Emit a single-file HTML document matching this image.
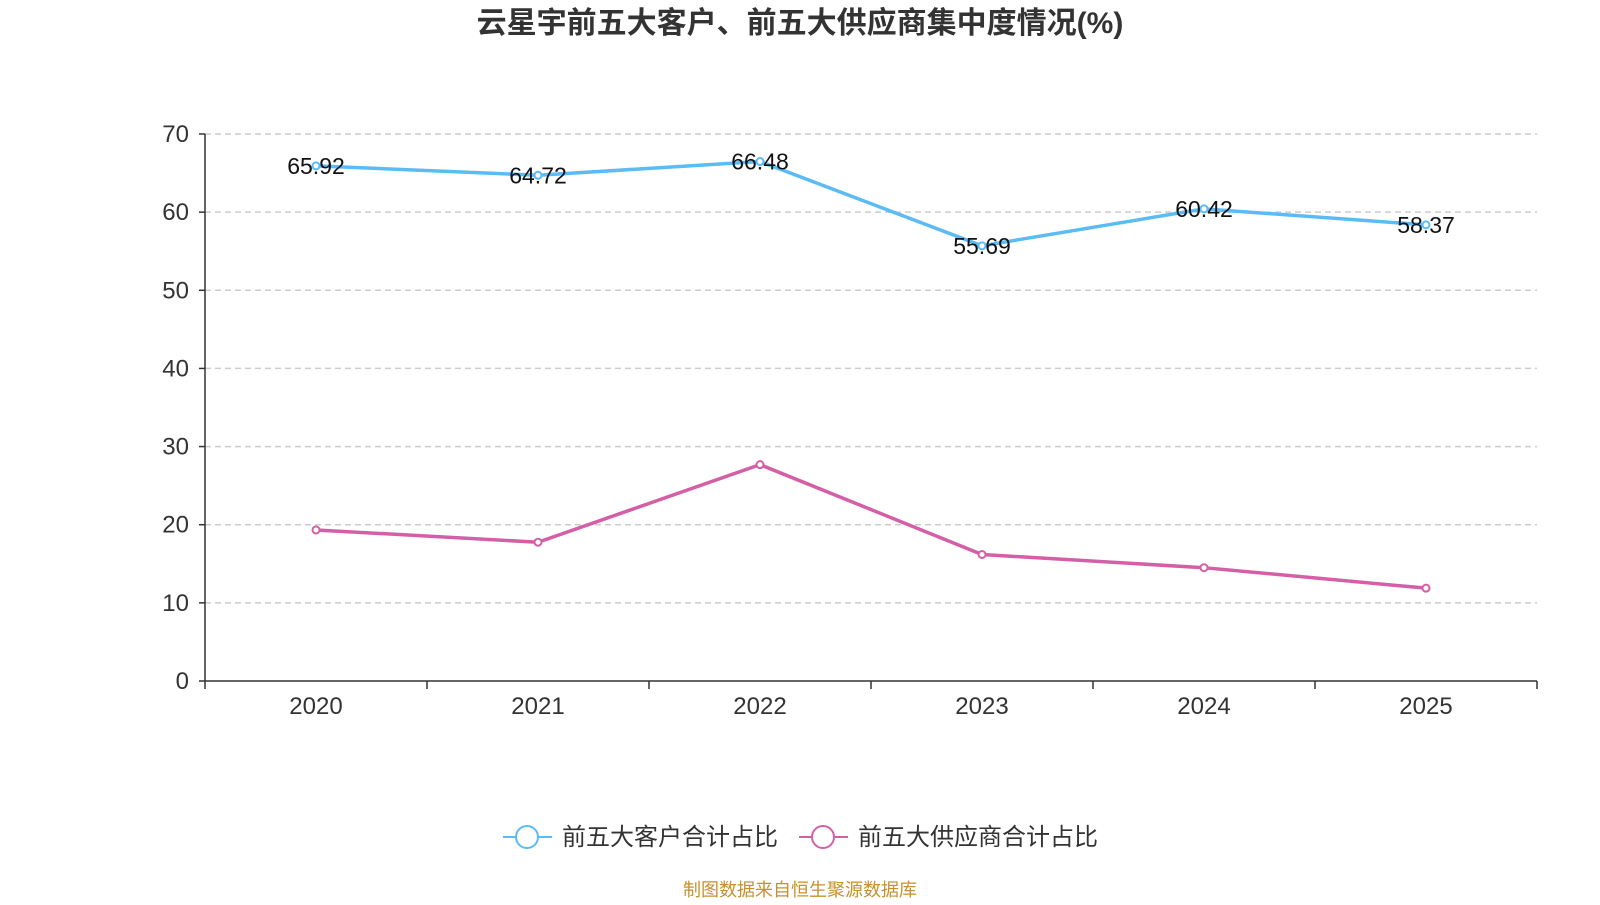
<!DOCTYPE html>
<html><head><meta charset="utf-8">
<style>
body{margin:0;background:#fff;width:1600px;height:900px;overflow:hidden;font-family:"Liberation Sans","Noto Sans CJK SC",sans-serif;}
</style></head>
<body>
<svg id="chart" width="1600" height="900" xmlns="http://www.w3.org/2000/svg" font-family="Liberation Sans, Noto Sans CJK SC, sans-serif">
<text x="800" y="33" text-anchor="middle" font-size="30" font-weight="bold" fill="#333">云星宇前五大客户、前五大供应商集中度情况(%)</text>
<g id="grid"></g><g id="axes"></g><g id="series"></g>
<g>
<g>
<line x1="503" y1="837" x2="552" y2="837" stroke="#5bbcf5" stroke-width="2"/>
<circle cx="527" cy="837" r="11" fill="#fff" stroke="#5bbcf5" stroke-width="2"/>
<text x="562" y="845" font-size="24" fill="#333">前五大客户合计占比</text></g>
<g>
<line x1="799" y1="837" x2="848" y2="837" stroke="#d45fa6" stroke-width="2"/>
<circle cx="823" cy="837" r="11" fill="#fff" stroke="#d45fa6" stroke-width="2"/>
<text x="858" y="845" font-size="24" fill="#333">前五大供应商合计占比</text></g>
</g>
<text x="800" y="896" text-anchor="middle" font-size="18" fill="#c8902a">制图数据来自恒生聚源数据库</text>
</svg>
<script>
const categories=["2020","2021","2022","2023","2024","2025"];
const customers=[65.92,64.72,66.48,55.69,60.42,58.37];
const suppliers=[19.33,17.76,27.69,16.19,14.5,11.88];
const yTicks=[0,10,20,30,40,50,60,70];
const NS="http://www.w3.org/2000/svg";
const x0=205,x1=1537,yTop=134,yBot=681,yMax=70;
const band=(x1-x0)/categories.length;
const xs=i=>x0+band*(i+0.5);
const ys=v=>yBot-(v/yMax)*(yBot-yTop);
function mk(tag,attrs,parent){const e=document.createElementNS(NS,tag);for(const k in attrs)e.setAttribute(k,attrs[k]);parent.appendChild(e);return e;}
const grid=document.getElementById('grid'),axes=document.getElementById('axes'),ser=document.getElementById('series');
yTicks.forEach(t=>{
 if(t>0){const g=mk('line',{x1:x0,x2:x1,y1:ys(t),y2:ys(t),stroke:'#ccc','stroke-dasharray':'6,4','stroke-width':1.5},grid);
 
 }
 const l=mk('text',{x:189,y:ys(t)+8,'text-anchor':'end','font-size':24,fill:'#333'},axes);l.textContent=t;
 
 
 mk('line',{x1:x0-6,x2:x0,y1:ys(t),y2:ys(t),stroke:'#333','stroke-width':1.5},axes);
});
mk('line',{x1:x0,x2:x0,y1:yTop,y2:yBot,stroke:'#333','stroke-width':1.5},axes);
mk('line',{x1:x0,x2:x1,y1:yBot,y2:yBot,stroke:'#333','stroke-width':1.5},axes);
for(let i=0;i<=categories.length;i++)mk('line',{x1:x0+band*i,x2:x0+band*i,y1:yBot,y2:yBot+8,stroke:'#333','stroke-width':1.5},axes);
categories.forEach((c,i)=>{const t=mk('text',{x:xs(i),y:714,'text-anchor':'middle','font-size':24,fill:'#333'},axes);t.textContent=c;
 
 });
function series(vals,color,name,labels){
 const p=mk('polyline',{points:vals.map((v,i)=>xs(i)+','+ys(v)).join(' '),fill:'none',stroke:color,'stroke-width':3.5},ser);
 
 
 vals.forEach((v,i)=>{const c=mk('circle',{cx:xs(i),cy:ys(v),r:3.5,fill:'#fff',stroke:color,'stroke-width':2},ser);
  
  
  if(labels){const t=mk('text',{x:xs(i),y:ys(v)+8,'text-anchor':'middle','font-size':23,fill:'#111'},ser);t.textContent=v.toFixed(2);
  
  }
 });
}
series(suppliers,'#d45fa6','suppliers',false);
series(customers,'#5bbcf5','customers',true);
</script>
</body></html>
